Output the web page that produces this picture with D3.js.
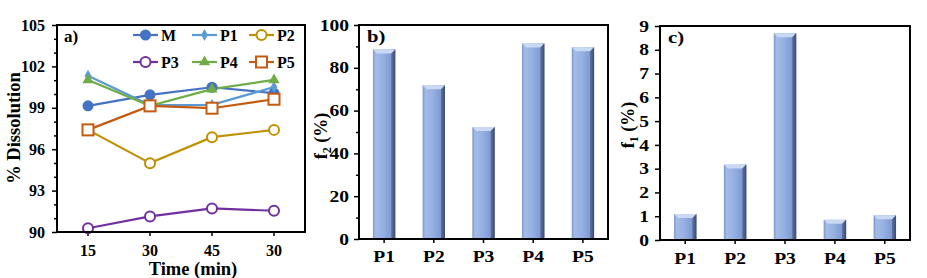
<!DOCTYPE html>
<html><head><meta charset="utf-8">
<script src="https://cdn.jsdelivr.net/npm/d3@7"></script>
<style>body{margin:0;background:#fff}svg{display:block}text{font-family:"Liberation Serif","Times New Roman",serif;font-weight:bold;fill:#000}</style>
</head><body><svg id="c" width="927" height="278"></svg>
<script>
// ---- data ----
const timeLabels = ["15","30","45","30"];
const seriesNames = ["M","P1","P2","P3","P4","P5"];
const M  = [99.14, 99.94, 100.49, 100.06];
const P1 = [101.33, 99.20, 99.21, 100.50];
const P2 = [97.40, 94.99, 96.87, 97.40];
const P3 = [90.27, 91.13, 91.71, 91.54];
const P4 = [101.02, 99.14, 100.35, 101.02];
const P5 = [97.40, 99.14, 98.97, 99.62];
const dissolutionTicks = [90, 93, 96, 99, 102, 105];
const formulations = ["P1","P2","P3","P4","P5"];
const f2Values = [88.6, 71.8, 52.3, 91.4, 89.6];
const f1Values = [1.09, 3.17, 8.70, 0.85, 1.04];
const f2Ticks = [0, 20, 40, 60, 80, 100];
const f1Ticks = [0,1,2,3,4,5,6,7,8,9];

const colors = {M:"#4472C4",P1:"#5B9BD5",P2:"#BF9000",P3:"#7030A0",P4:"#70AD47",P5:"#C55A11"};
const markers = {M:"circleFilled",P1:"diamond",P2:"circleOpen",P3:"circleOpen",P4:"triangle",P5:"square"};
const seriesData = {M,P1,P2,P3,P4,P5};

const svg = d3.select("#c");
const defs = svg.append("defs");
const grad = defs.append("linearGradient").attr("id","barGrad").attr("x1","0").attr("x2","1").attr("y1","0").attr("y2","0");
[["0%","#7E97C8"],["12%","#A3BBE8"],["45%","#95B0E2"],["82%","#7F9AD2"],["92%","#5B72A6"],["100%","#34425F"]]
  .forEach(([o,c])=>grad.append("stop").attr("offset",o).attr("stop-color",c));

function drawMarker(g, type, x, y, col){
  if(type==="circleFilled") g.append("circle").attr("cx",x).attr("cy",y).attr("r",5.5).attr("fill",col);
  else if(type==="circleOpen") g.append("circle").attr("cx",x).attr("cy",y).attr("r",5).attr("fill","#fff").attr("stroke",col).attr("stroke-width",2);
  else if(type==="diamond") g.append("path").attr("d",d3.symbol(d3.symbolDiamond,40)()).attr("transform",`translate(${x},${y})`).attr("fill",col);
  else if(type==="triangle") g.append("path").attr("d",d3.symbol(d3.symbolTriangle,55)()).attr("transform",`translate(${x},${y})`).attr("fill",col);
  else if(type==="square") g.append("rect").attr("x",x-5.5).attr("y",y-5.5).attr("width",11).attr("height",11).attr("fill","#fff").attr("stroke",col).attr("stroke-width",2);
}

function styleAxis(g, size){
  g.select(".domain").remove();
  g.attr("font-family",null).attr("font-size",null);
  g.selectAll(".tick line").attr("stroke","#000").attr("stroke-width",1.5);
  g.selectAll(".tick text").style("font-size",(size||16)+"px").attr("fill","#000");
}
// horizontally stretched text (the bar panels in the reference are stretched)
const SX = 1.22;
function stretch(sel){
  sel.each(function(){
    const t=d3.select(this); const x=+t.attr("x")||0;
    t.attr("x",x/SX).attr("transform",`scale(${SX},1)`);
  });
}

// ---- Panel a ----
(function(){
  const L=57,R=305,T=25,B=232;
  const x = d3.scaleBand().domain(d3.range(timeLabels.length)).range([L,R]);
  const y = d3.scaleLinear().domain([90,105]).range([B,T]);
  const g = svg.append("g");
  const minor = d3.range(90,106,1).filter(v=>!dissolutionTicks.includes(v));
  g.append("g").attr("transform",`translate(${L},0)`).call(d3.axisLeft(y).tickValues(minor).tickSize(3).tickFormat(""))
    .call(styleAxis);
  const ya = g.append("g").attr("transform",`translate(${L},0)`).call(d3.axisLeft(y).tickValues(dissolutionTicks).tickSize(5).tickPadding(7));
  styleAxis(ya,16);
  const xa = g.append("g").attr("transform",`translate(0,${B})`).call(d3.axisBottom(x).tickSize(4).tickPadding(9).tickFormat(i=>timeLabels[i]));
  styleAxis(xa,16);
  const line = d3.line().x((d,i)=>x(i)+x.bandwidth()/2).y(d=>y(d));
  seriesNames.forEach(n=>{
    g.append("path").attr("d",line(seriesData[n])).attr("fill","none").attr("stroke",colors[n]).attr("stroke-width",2.2);
  });
  seriesNames.forEach(n=>{
    seriesData[n].forEach((v,i)=>drawMarker(g,markers[n],x(i)+x.bandwidth()/2,y(v),colors[n]));
  });
  g.append("rect").attr("x",L).attr("y",T).attr("width",R-L).attr("height",B-T).attr("fill","none").attr("stroke","#000").attr("stroke-width",2);
  g.append("text").attr("x",64).attr("y",42).style("font-size","17px").text("a)");
  const lx=[133,192,249], ly=[35,62];
  seriesNames.forEach((n,i)=>{
    const cx=lx[i%3], cy=ly[Math.floor(i/3)];
    g.append("line").attr("x1",cx).attr("x2",cx+25).attr("y1",cy).attr("y2",cy).attr("stroke",colors[n]).attr("stroke-width",2.2);
    drawMarker(g,markers[n],cx+12.5,cy,colors[n]);
    g.append("text").attr("x",cx+28).attr("y",cy+5.5).style("font-size","16px").text(n);
  });
  g.append("text").attr("transform",`translate(20,128) rotate(-90)`).attr("text-anchor","middle").style("font-size","18.5px").text("% Dissolution");
  g.append("text").attr("x",193).attr("y",275).attr("text-anchor","middle").style("font-size","18.5px").text("Time (min)");
})();

function barPanel(opts){
  const {L,R,T,B,vals,max,ticks,minorStep,label,sub,titleX,titleY,panel} = opts;
  const x = d3.scaleBand().domain(formulations).range([L,R]).paddingInner(0.55).paddingOuter(0.28);
  const y = d3.scaleLinear().domain([0,max]).range([B,T]);
  const g = svg.append("g");
  if(minorStep){
    const minor = d3.range(0,max+0.001,minorStep).filter(v=>!ticks.includes(v));
    g.append("g").attr("transform",`translate(${L},0)`).call(d3.axisLeft(y).tickValues(minor).tickSize(3).tickFormat("")).call(styleAxis);
  }
  const ya = g.append("g").attr("transform",`translate(${L},0)`).call(d3.axisLeft(y).tickValues(ticks).tickSize(5).tickPadding(opts.yPad));
  styleAxis(ya,16);
  stretch(ya.selectAll(".tick text"));
  const xa = g.append("g").attr("transform",`translate(0,${B})`).call(d3.axisBottom(x).tickSize(4).tickPadding(opts.xPad));
  styleAxis(xa,16);
  stretch(xa.selectAll(".tick text"));
  formulations.forEach((f,i)=>{
    const bx=x(f), bw=x.bandwidth(), by=y(vals[i]);
    g.append("rect").attr("x",bx).attr("y",by).attr("width",bw).attr("height",B-by).attr("fill","url(#barGrad)");
    const cap=4;
    g.append("path").attr("d",`M${bx},${by}L${bx+bw},${by}L${bx+bw-cap},${by+cap}L${bx+cap},${by+cap}Z`).attr("fill","#C9D8F3");
    g.append("path").attr("d",`M${bx+bw},${by}L${bx+bw},${B}L${bx+bw-cap},${B}L${bx+bw-cap},${by+cap}Z`).attr("fill","#3F4F75").attr("opacity",0.55);
  });
  g.append("rect").attr("x",L).attr("y",T).attr("width",R-L).attr("height",B-T).attr("fill","none").attr("stroke","#000").attr("stroke-width",2);
  g.append("text").attr("x",(L+8)/SX).attr("y",T+17).attr("transform",`scale(${SX},1)`).style("font-size","17px").text(panel);
  const t = g.append("text").attr("transform",`translate(${titleX},${titleY}) rotate(-90)`).attr("text-anchor","middle").style("font-size","18px");
  t.append("tspan").text(label);
  t.append("tspan").attr("dy",4).style("font-size","12px").text(sub);
  t.append("tspan").attr("dy",-4).text(" (%)");
}

barPanel({L:359,R:608,T:25,B:239,vals:f2Values,max:100,ticks:f2Ticks,minorStep:10,label:"f",sub:"2",titleX:327,titleY:136,panel:"b)",xPad:8,yPad:5});
barPanel({L:660,R:910,T:26,B:240,vals:f1Values,max:9,ticks:f1Ticks,minorStep:0,label:"f",sub:"1",titleX:634,titleY:125,panel:"c)",xPad:9,yPad:6});
</script></body></html>
